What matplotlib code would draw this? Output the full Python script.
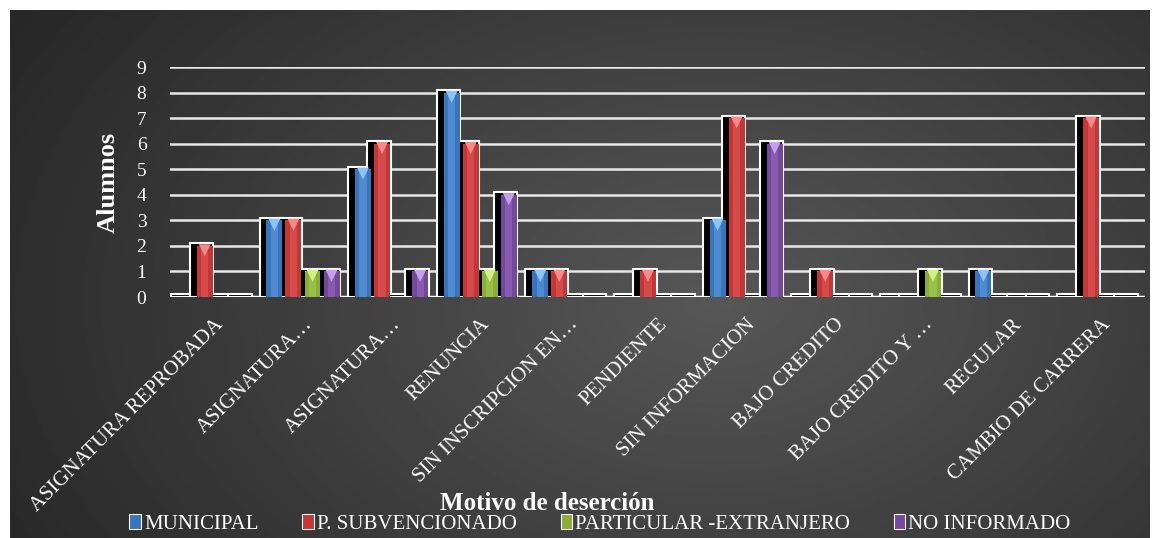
import numpy as np
import matplotlib.pyplot as plt
from matplotlib.patches import Patch

# categories and counts
categories = ['ASIGNATURA REPROBADA', 'ASIGNATURA…', 'ASIGNATURA…', 'RENUNCIA',
              'SIN INSCRIPCION EN…', 'PENDIENTE', 'SIN INFORMACION', 'BAJO CREDITO',
              'BAJO CREDITO Y …', 'REGULAR', 'CAMBIO DE CARRERA']
municipal = [0, 3, 5, 8, 1, 0, 3, 0, 0, 1, 0]
subvencionado = [2, 3, 6, 6, 1, 1, 7, 1, 0, 0, 7]
particular = [0, 1, 0, 1, 0, 0, 0, 0, 1, 0, 0]
no_informado = [0, 1, 1, 4, 0, 0, 6, 0, 0, 0, 0]

series_names = ['MUNICIPAL', 'P. SUBVENCIONADO', 'PARTICULAR -EXTRANJERO', 'NO INFORMADO']
series_vals = [municipal, subvencionado, particular, no_informado]
colors = ['#3a74bd', '#c43737', '#88af38', '#74499c']
light = ['#5d9be0', '#e25a5a', '#a8cc55', '#9468be']
tips = ['#8cc4f5', '#f58a8a', '#d4ee88', '#c4a2ea']

plt.rcParams['font.family'] = 'serif'
plt.rcParams['font.serif'] = ['Liberation Serif', 'DejaVu Serif']

fig = plt.figure(figsize=(11.6, 5.38), dpi=100, facecolor='white')

# dark radial gradient background
bg = fig.add_axes([10 / 1160, 0, 1140 / 1160, 528 / 538], zorder=-5)
yy, xx = np.mgrid[0:1:300j, 0:1:600j]
dist = np.sqrt(((xx - 0.62) * 1.3) ** 2 + ((yy - 0.55) * 0.9) ** 2)
grad = np.clip(0.34 - 0.2 * dist, 0.14, 0.34)
bg.imshow(grad, cmap='gray', vmin=0, vmax=1, aspect='auto', extent=[0, 1, 0, 1])
bg.axis('off')

ax = fig.add_axes([170 / 1160, (538 - 297) / 538, 975 / 1160, 230 / 538])
ax.patch.set_alpha(0)

x = np.arange(len(categories))
slot = 0.215
col_w = 0.18
offsets = (np.arange(4) - 1.5) * slot

# black shadow boxes with white frame first
for vals, off in zip(series_vals, offsets):
    vals = np.array(vals)
    ax.bar(x + off - 0.035, vals + 0.1, width=col_w + 0.085, color='black',
           edgecolor='white', linewidth=1.5, zorder=3)

# coloured columns on top
for vals, col, lt, tip, off in zip(series_vals, colors, light, tips, offsets):
    vals = np.array(vals)
    xs = x + off
    ax.bar(xs, vals, width=col_w, color=col, edgecolor='none', zorder=4)
    ax.bar(xs, vals, width=col_w * 0.45, color=lt, alpha=0.6, edgecolor='none', zorder=5)
    nz = vals > 0
    ax.scatter(xs[nz], vals[nz] - 0.17, marker='v', s=75, color=tip,
               edgecolor='none', zorder=6)

ax.set_xlim(-0.5, len(categories) - 0.5)
ax.set_ylim(0, 9)
ax.set_yticks(range(10))
ax.yaxis.grid(True, color='#e8e8e8', linewidth=1.8)
ax.set_axisbelow(True)
for s in ax.spines.values():
    s.set_visible(False)
ax.axhline(0, color='white', linewidth=2.5, zorder=2)

ax.tick_params(axis='y', length=0, colors='white', labelsize=14, pad=17)
ax.tick_params(axis='x', length=0, colors='white', labelsize=15, pad=13)
ax.set_xticks(x)
ax.set_xticklabels(categories, rotation=45, ha='right', rotation_mode='anchor')

ax.set_ylabel('Alumnos', color='white', fontsize=19, fontweight='bold', labelpad=12)

fig.text(547 / 1160, 1 - 503 / 538, 'Motivo de deserción', color='white', fontsize=18,
         fontweight='bold', ha='center', va='center')

handles = [Patch(facecolor=c, edgecolor='white', linewidth=0.8) for c in colors]
leg = fig.legend(handles, series_names, loc='center', bbox_to_anchor=(600 / 1160, 1 - 524 / 538),
                 ncol=4, frameon=False, fontsize=15,
                 handlelength=0.55, handleheight=0.75, handletextpad=0.15,
                 columnspacing=2.1, borderpad=0, borderaxespad=0)
for t in leg.get_texts():
    t.set_color('white')
    t.set_fontfamily('Liberation Serif')

fig.savefig('out.png', dpi=100, facecolor='white')
